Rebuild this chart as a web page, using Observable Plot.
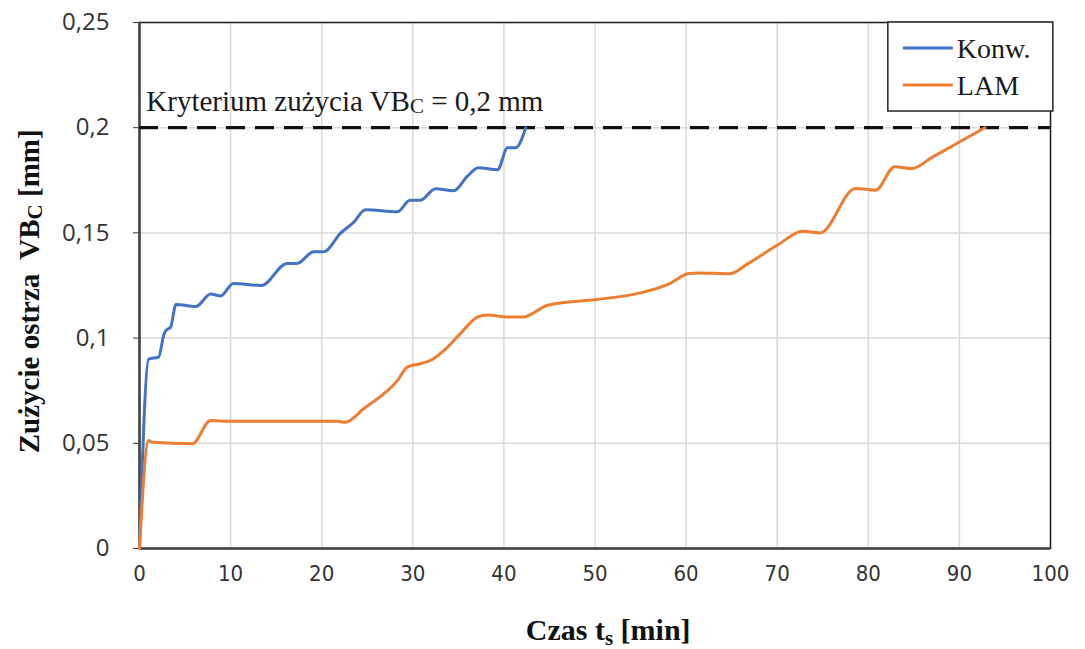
<!DOCTYPE html>
<html>
<head>
<meta charset="utf-8">
<script src="https://cdn.jsdelivr.net/npm/d3@7"></script>
<script src="https://cdn.jsdelivr.net/npm/@observablehq/plot@0.6"></script>
<style>
  html, body { margin: 0; padding: 0; background: white; }
  #chart { width: 1085px; height: 649px; }
</style>
</head>
<body>
<div id="chart"></div>
<script>
// ---- Data ----
const xTicks = [0, 10, 20, 30, 40, 50, 60, 70, 80, 90, 100];
const yTicks = [0, 0.05, 0.1, 0.15, 0.2, 0.25];

const konwTime = [0, 1.0, 2.1, 2.7, 3.0, 3.4, 4.0, 6.2, 7.8, 8.9, 10.3, 13.4, 16.2, 17.3, 19.1, 20.2, 22.1, 23.5, 24.8, 28.3, 29.7, 30.8, 32.5, 34.5, 36.0, 37.2, 39.3, 40.4, 41.3, 42.4];
const konwVB   = [0, 0.090, 0.091, 0.102, 0.104, 0.105, 0.116, 0.115, 0.121, 0.120, 0.126, 0.125, 0.1355, 0.1355, 0.141, 0.141, 0.150, 0.155, 0.161, 0.160, 0.1655, 0.1655, 0.171, 0.170, 0.177, 0.181, 0.180, 0.1905, 0.1905, 0.200];

const lamTime = [0, 1.0, 1.4, 5.8, 7.8, 10, 21.7, 22.6, 24.6, 28.3, 29.4, 30.8, 32.1, 33.4, 35.2, 37.1, 38.2, 40.4, 42.1, 44.8, 50.1, 55, 58.2, 60.2, 61.3, 64.8, 66.8, 70, 72.8, 74.7, 78.6, 80.8, 82.9, 84.8, 87, 90, 92.8];
const lamVB   = [0, 0.0513, 0.0505, 0.0498, 0.0608, 0.0605, 0.0605, 0.060, 0.0664, 0.0798, 0.0862, 0.0878, 0.0897, 0.094, 0.102, 0.110, 0.111, 0.110, 0.110, 0.1156, 0.1183, 0.1215, 0.1259, 0.1306, 0.131, 0.1306, 0.1354, 0.1441, 0.1508, 0.150, 0.1711, 0.1703, 0.1814, 0.1806, 0.1859, 0.1932, 0.200];

const criterion = [0.2];
const seriesNames = ["Konw.", "LAM"];
const seriesColors = ["#4472C4", "#ED7D31"];

const konw = konwTime.map((t, i) => ({t, vb: konwVB[i]}));
const lam = lamTime.map((t, i) => ({t, vb: lamVB[i]}));

const serif = "'Liberation Serif', 'Times New Roman', serif";
const fmtY = d => String(d).replace(".", ",");

const plot = Plot.plot({
  width: 1085,
  height: 649,
  marginLeft: 139,
  marginRight: 35,
  marginTop: 22,
  marginBottom: 101,
  style: {background: "white", overflow: "visible"},
  x: {domain: [0, 100], label: null},
  y: {domain: [0, 0.25], label: null},
  marks: [
    Plot.gridX(xTicks, {stroke: "#d9d9d9", strokeOpacity: 1, strokeWidth: 1.5}),
    Plot.gridY(yTicks, {stroke: "#d9d9d9", strokeOpacity: 1, strokeWidth: 1.5}),
    Plot.axisX(xTicks, {tickSize: 0, tickPadding: 17, fontSize: 22, fill: "#333",
      fontFamily: "'DejaVu Sans Condensed', 'Liberation Sans Narrow', 'DejaVu Sans', sans-serif",
      tickFormat: d => String(d)}),
    Plot.axisY(yTicks, {tickSize: 6, tickPadding: 24, fontSize: 24, fill: "#333", stroke: "#333",
      fontFamily: "'Open Sans', sans-serif", tickFormat: fmtY}),
    Plot.frame({stroke: "#222", strokeWidth: 1.5}),
    Plot.ruleX([0], {stroke: "#444", strokeWidth: 2.5}),
    Plot.ruleY([0], {stroke: "#444", strokeWidth: 2.5}),
    Plot.ruleY(criterion, {stroke: "#111", strokeWidth: 3.2, strokeDasharray: "19,10"}),
    Plot.line(konw, {x: "t", y: "vb", stroke: seriesColors[0], strokeWidth: 3, curve: "monotone-x"}),
    Plot.line(lam, {x: "t", y: "vb", stroke: seriesColors[1], strokeWidth: 3, curve: "monotone-x"})
  ]
});

document.getElementById("chart").appendChild(plot);

const svg = d3.select(plot);
const xs = plot.scale("x"), ys = plot.scale("y");

// Criterion annotation
const ann = svg.append("text")
  .attr("x", xs.apply(0.8))
  .attr("y", ys.apply(0.2) - 16)
  .attr("text-anchor", "start")
  .attr("font-family", serif)
  .attr("font-size", 29)
  .attr("fill", "#1a1a1a");
ann.append("tspan").text("Kryterium zużycia VB");
ann.append("tspan").attr("font-size", 21).attr("dy", 2).text("C");
ann.append("tspan").attr("dy", -2).text(" = 0,2 mm");

// Y axis title
const yTitle = svg.append("text")
  .attr("transform", `translate(39, ${ys.apply(0.122)}) rotate(-90)`)
  .attr("text-anchor", "middle")
  .attr("font-family", serif)
  .attr("font-weight", "bold")
  .attr("font-size", 29)
  .attr("fill", "#111");
yTitle.append("tspan").text("Zużycie ostrza  VB");
yTitle.append("tspan").attr("font-size", 21).attr("dy", 3).text("C");
yTitle.append("tspan").attr("dy", -3).text(" [mm]");

// X axis title
const xTitle = svg.append("text")
  .attr("x", xs.apply(51.5))
  .attr("y", 640)
  .attr("text-anchor", "middle")
  .attr("font-family", serif)
  .attr("font-weight", "bold")
  .attr("font-size", 30)
  .attr("fill", "#111");
xTitle.append("tspan").text("Czas t");
xTitle.append("tspan").attr("font-size", 21).attr("dy", 5).text("s");
xTitle.append("tspan").attr("dy", -5).text(" [min]");

// Legend
const lg = svg.append("g");
const lx = xs.apply(82.2), ly = ys.apply(0.25);
lg.append("rect").attr("x", lx).attr("y", ly).attr("width", 165).attr("height", 89)
  .attr("fill", "white").attr("stroke", "#222").attr("stroke-width", 1.5);
seriesNames.forEach((name, i) => {
  const yy = ly + 26 + i * 37;
  lg.append("line").attr("x1", lx + 15).attr("x2", lx + 65).attr("y1", yy).attr("y2", yy)
    .attr("stroke", seriesColors[i]).attr("stroke-width", 3);
  lg.append("text").attr("x", lx + 69).attr("y", yy).attr("dy", "0.35em")
    .attr("text-anchor", "start")
    .attr("font-family", serif).attr("font-size", 28).attr("fill", "#1a1a1a").text(name);
});
</script>
</body>
</html>
